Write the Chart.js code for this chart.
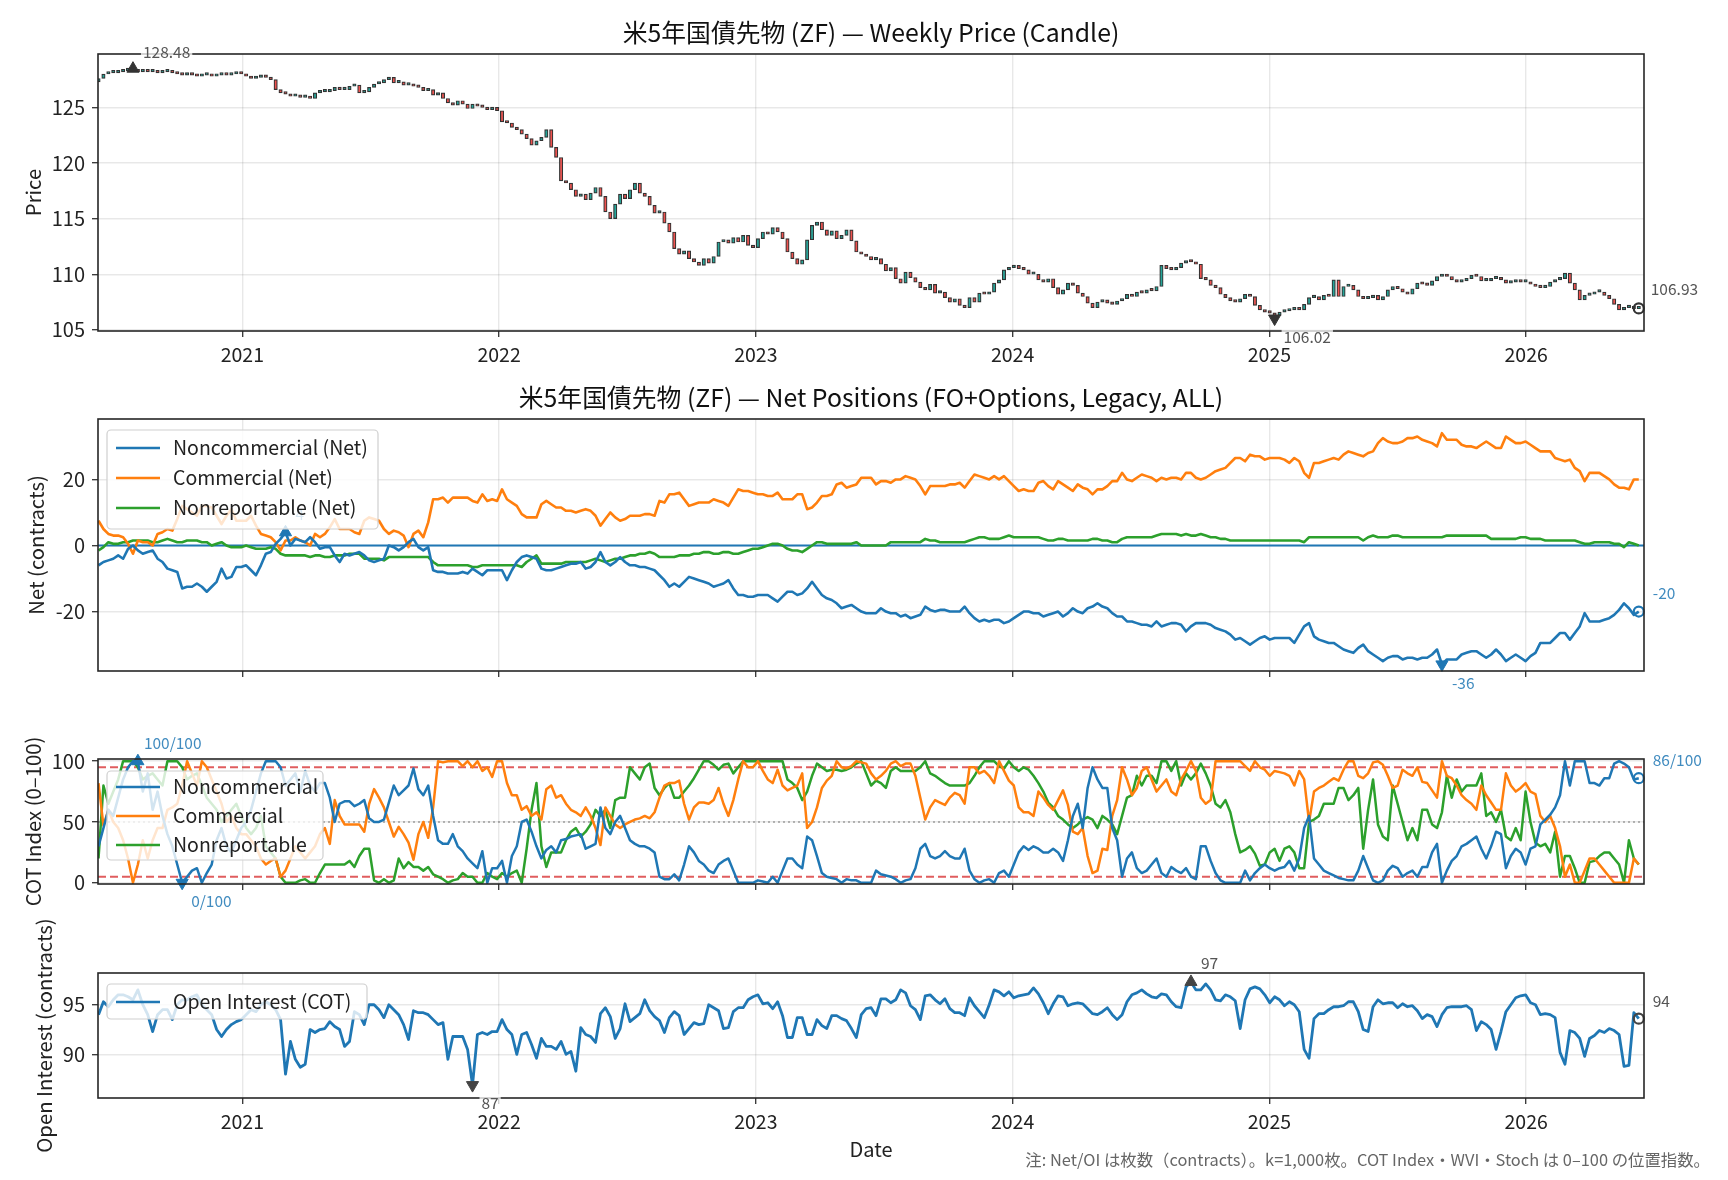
<!DOCTYPE html>
<html>
<head>
<meta charset="utf-8">
<script src="https://cdn.jsdelivr.net/npm/chart.js@4.4.1/dist/chart.umd.min.js"></script>
<style>
  body { margin: 0; background: #fff; width: 1728px; height: 1180px; overflow: hidden; position: relative; }
  canvas { position: absolute; left: 0; }
</style>
</head>
<body>
<canvas id="c1" width="1728" height="380" style="top:0"></canvas>
<canvas id="c2" width="1728" height="320" style="top:380px"></canvas>
<canvas id="c3" width="1728" height="215" style="top:700px"></canvas>
<canvas id="c4" width="1728" height="275" style="top:905px"></canvas>
<script>
// ---- time axis ----
const weekStart = 2020.44, weekStep = 7 / 365.25;
const xMin = 2020.438, xMax = 2026.459;
const yearTicks = [2021, 2022, 2023, 2024, 2025, 2026];

// ---- panel 1: weekly candles ----
const priceTicks = [105, 110, 115, 120, 125];
const priceOpen0 = 127.3;
const priceClose = [
  127.6,128.0,128.1,128.1,128.2,128.3,128.4,128.3,128.2,128.3,
  128.2,128.2,128.1,128.2,128.2,128.1,128.0,127.9,127.95,127.9,
  127.8,127.9,127.9,127.8,127.9,128.0,127.9,128.0,128.1,128.0,
  127.8,127.6,127.7,127.8,127.7,127.5,126.6,126.3,126.2,126.0,
  126.1,125.9,126.0,125.8,126.3,126.4,126.4,126.5,126.8,126.6,
  126.6,126.9,127.0,126.3,126.4,126.8,127.1,127.2,127.5,127.7,
  127.2,127.3,127.0,127.1,126.9,126.8,126.5,126.6,126.1,126.3,
  125.8,125.4,125.2,125.6,125.3,124.9,125.3,125.1,125.0,124.8,
  125.0,124.7,123.7,123.6,123.2,123.0,122.6,122.2,121.6,122.0,
  122.3,123.0,121.4,120.5,118.4,118.2,117.6,117.0,117.2,116.7,
  117.3,117.8,117.0,115.6,115.0,116.3,117.2,116.8,117.6,118.2,
  117.3,117.0,116.2,115.5,115.6,114.6,113.8,112.3,111.8,112.1,
  111.4,111.1,110.8,111.4,111.0,111.6,112.9,113.1,112.8,113.3,
  112.9,113.5,112.6,112.4,113.2,113.8,113.6,114.2,113.8,113.2,
  112.0,111.4,110.9,111.3,113.1,114.4,114.7,114.0,113.5,113.9,
  113.2,113.5,114.0,113.0,112.0,111.8,111.6,111.3,111.4,110.9,
  110.3,110.6,109.6,109.2,110.2,109.7,109.3,108.8,108.6,109.1,
  108.3,108.4,107.9,107.5,107.8,107.2,107.0,107.9,107.5,108.3,
  108.2,108.4,109.2,109.5,110.4,110.6,110.8,110.5,110.4,110.0,
  110.0,109.5,109.3,109.6,108.8,108.2,108.6,109.2,109.0,108.3,
  108.0,107.4,107.0,107.5,107.7,107.4,107.3,107.6,107.8,108.2,
  108.0,108.4,108.3,108.6,108.5,108.9,110.8,110.5,110.4,110.6,
  111.0,111.2,111.1,110.9,109.6,109.5,109.0,108.8,108.2,107.9,
  107.6,107.5,107.8,108.2,108.0,107.2,106.8,106.6,106.5,106.3,
  106.6,106.7,106.8,106.9,106.8,107.3,107.9,108.0,107.7,108.1,
  108.0,109.5,108.0,108.9,109.0,108.6,108.0,107.8,107.9,108.1,
  107.7,108.0,108.6,108.9,108.7,108.4,108.2,108.7,109.2,109.1,
  109.0,109.4,109.8,110.0,109.8,109.5,109.3,109.4,109.6,109.9,
  109.8,109.4,109.4,109.6,109.7,109.5,109.2,109.3,109.4,109.3,
  109.3,109.1,108.9,108.8,108.9,109.3,109.5,109.6,110.1,109.2,
  108.6,107.7,108.1,108.2,108.4,108.4,108.1,107.8,107.3,106.8,
  107.0,107.1,106.9,106.93
];
const priceHigh = [7, 128.48];   // [week, value]
const priceLow = [239, 106.02];

// ---- panel 2: net positions (k contracts) ----
const netTicks = [-20, 0, 20];
const netNames = ['Noncommercial (Net)', 'Commercial (Net)', 'Nonreportable (Net)'];
const netNonComm = [
  -6,-5,-4.5,-4,-3,-4,-1,0,-1.5,-2.5,
  -2,-1.5,-4,-5,-7,-7.5,-8,-13,-12.5,-12.5,
  -11.5,-12.5,-14,-12.5,-11,-7,-10,-9.5,-6.5,-6.5,
  -6,-7.5,-9,-6,-2.5,-2,0.5,2,4,0,
  2,1.5,1,2.5,1,-1,-0.5,-0.5,-3,-5,
  -2.5,-3,-2.5,-2,-3,-4.5,-5,-4.5,-4,0,
  -0.5,-1.5,-0.5,1,2,-0.5,-1.5,-0.5,-7.5,-8,
  -8,-8.5,-8.5,-8.5,-8,-8.5,-7,-8,-9,-7.5,
  -7.5,-7.5,-7.5,-10.5,-7.5,-5,-3.5,-3,-3.5,-4,
  -7,-7.5,-7.5,-7,-6.5,-6,-5.5,-5.5,-5,-7,
  -6.5,-5,-2,-5,-6,-5,-3.5,-5,-6,-6,
  -6.5,-6.5,-7,-7.5,-9,-10.5,-12.5,-11.5,-12.5,-11,
  -9.5,-10,-10.5,-11,-11.5,-12.5,-12,-11.5,-10.5,-13,
  -15,-15,-15.5,-15.5,-15,-15,-15,-16,-17,-15.5,
  -14,-14,-15,-14.5,-13,-11,-13,-15,-16,-16.5,
  -17.5,-19,-18.5,-18,-19,-20,-20.5,-20.5,-20.5,-19,
  -20,-20.5,-20.5,-21.5,-21,-22,-21.5,-21,-18.5,-19.5,
  -20,-19.5,-19.5,-20,-20,-20,-18.5,-20.5,-22,-23,
  -22.5,-23,-22.5,-22.5,-23.5,-23,-22,-21,-20,-20,
  -20.5,-20.5,-21.5,-21,-20.5,-20,-21.5,-20.5,-19,-20,
  -20.5,-19,-18.5,-17.5,-18.5,-19,-20.5,-21.5,-21.5,-23,
  -23,-23.5,-24,-24,-24.5,-23,-24.5,-24,-23.5,-23.5,
  -24,-26,-24.5,-23.5,-23.5,-23.5,-24,-25,-25.5,-26,
  -27,-28.5,-28,-29,-30,-29,-28,-27.5,-28.5,-28,
  -28,-28,-28,-29.5,-27,-24.5,-23.5,-27.5,-28.5,-29,
  -29.5,-29.5,-30.5,-31.5,-32,-32.5,-31,-30,-32,-33,
  -34,-35,-34,-33.5,-33.5,-34.5,-34,-34,-34.5,-34,
  -34,-33,-31.5,-36,-34.5,-34.5,-34.5,-33,-32.5,-32,
  -32,-33,-34,-33,-31.5,-33,-35,-34,-33,-34,
  -35,-33.5,-32.5,-29.5,-29.5,-29.5,-28,-26.5,-26.5,-28.5,
  -26.5,-24.5,-20.5,-23,-23,-23,-22.5,-22,-21,-19.5,
  -17.5,-19,-21,-20
];
const netComm = [
  7.5,5,3.5,3,3,2.5,0.5,-2.5,1.5,1,
  1,0,3.5,4,5,4.5,8,12,11,10,
  9,12,12,11.5,9,6.5,9,11,7.5,7.5,
  7.5,9,6,3.5,3,2.5,1,-1.5,1.5,1.5,
  2.5,1.5,1,0,3.5,2.5,3.5,5.5,8,5,
  5,5,4,3.5,7.5,8.5,8,7.5,5,3.5,
  4.5,4,3,-0.5,3.5,4.5,2.5,7,14,14,
  14.5,13,14.5,14.5,14.5,14.5,13.5,13,15.5,13.5,
  14,13.5,17,14,13,12,9.5,8.5,8.5,8.5,
  12.5,13.5,12.5,11.5,11.5,10.5,10.5,10,10.5,11,
  10.5,9,6,8,10,8.5,7.5,8,9,9,
  9,9.5,9.5,9,13.5,13,15.5,15.5,16,14,
  12,12.5,13,13,13,14,13.5,13,12,14.5,
  17,16.5,16.5,16,15.5,15.5,15,15,16,14,
  14,14,15.5,15.5,11,11.5,13,15,15,15.5,
  18.5,19,17.5,18,18.5,20.5,20.5,20.5,18.5,19.5,
  19.5,19,20,20,21,20.5,20,18,15.5,18,
  18,18,18,18.5,18.5,19,17.5,19.5,21.5,21,
  20.5,20,21,20,21,19.5,18,16.5,17,16.5,
  16.5,19,19.5,18,17,19.5,18.5,17.5,16.5,18.5,
  17.5,17,15.5,17,17,18,19.5,19.5,22,20,
  19.5,20.5,21.5,21,20.5,19.5,20.5,20,20.5,20.5,
  20,22,22,20.5,20,20.5,21.5,22.5,23,23.5,
  25,26.5,26.5,25.5,27.5,27,27,26,26.5,26.5,
  26.5,26,25,26.5,25.5,22,20.5,25,25,25.5,
  26,26.5,26,27.5,28.5,28,27.5,27,28,28.5,
  31,32.5,31.5,31,31,31.5,32.5,32.5,33,32,
  31.5,31,30,34,32,32,32,30.5,30,30,
  29.5,30.5,31.5,30.5,29.5,29.5,33,32,31,31,
  31.5,30.5,29.5,28.5,28.5,28.5,26.5,26,25.5,26,
  23.5,22.5,19.5,22,22,22,21,20,18.5,17.5,
  17.5,17,20,20
];
const netNonRep = [
  -1.5,-0.5,1,0.5,0.5,1,1,1.5,1.5,1.5,
  1.5,1,1,1.5,2,1.5,1,1,1.5,1.5,
  1.5,1,1,0,0.5,1,0,-0.5,-0.5,-0.5,
  0,-0.5,-1,-1,-1,-0.5,-1,-2.5,-3,-3,
  -3,-3,-3,-3.5,-3,-3,-3.5,-3.5,-3,-3,
  -3,-2.5,-2.5,-2.5,-4,-4,-4,-4,-4.5,-3.5,
  -3.5,-3.5,-3.5,-3.5,-3.5,-3.5,-3.5,-3.5,-5,-6,
  -6,-6,-6,-6,-6,-6,-6.5,-6.5,-6,-6,
  -6,-6,-6,-6,-6,-6,-6.5,-5,-4,-3,
  -5.5,-5.5,-5.5,-5.5,-5.5,-5,-5,-5,-5,-5,
  -4.5,-4,-4.5,-5,-4.5,-4,-4,-3.5,-3,-3,
  -2.5,-2.5,-2,-2.5,-3.5,-3.5,-3.5,-3.5,-3,-3,
  -3,-2.5,-2.5,-2,-2,-2.5,-2.5,-2,-2,-2.5,
  -2.5,-2,-1.5,-1,-1,-0.5,0,0.5,0.5,0,
  -1,-1.5,-1.5,-2,-1,0,1,1,0.5,0.5,
  0.5,0.5,0.5,0.5,1,0,0,0,0,0,
  0,1,1,1,1,1,1,1,2,1.5,
  1.5,1,1,1,1,1,1,1.5,2,2.5,
  2.5,2,2,2,2.5,3,2.5,2.5,2.5,2.5,
  2.5,2.5,2,1.5,1.5,2,2,1.5,1.5,1.5,
  1.5,1.5,2,2,1.5,1.5,1,1,2,2.5,
  2.5,2.5,2.5,2.5,2.5,3,3.5,3.5,3.5,3.5,
  3,3.5,3,3,3.5,3,2.5,2.5,2,2,
  1.5,1.5,1.5,1.5,1.5,1.5,1.5,1.5,1.5,1.5,
  1.5,1.5,1.5,1.5,1.5,1,2.5,2.5,2.5,2.5,
  2.5,2.5,2.5,2.5,2.5,2.5,2.5,1.5,2.5,3,
  2.5,2.5,2.5,3,3,2.5,2.5,2.5,2.5,2.5,
  2.5,2.5,2.5,2.5,3,3,3,3,3,3,
  3,3,3,2,2,2,2,2,2,2.5,
  2.5,2,2,2,1.5,1.5,1.5,1.5,1.5,1.5,
  1.5,1,0.5,0.5,1,1,1,1,0.5,0.5,
  -0.5,1,0.5,0
];
const netHigh = [38, 4];
const netLow = [273, -36];

// ---- panel 3: COT index (0-100) ----
const cotTicks = [0, 50, 100];
const cotBands = [5, 50, 95];
const cotNames = ['Noncommercial', 'Commercial', 'Nonreportable'];
const cotNonComm = [
  30,45,60,55,70,85,95,100,100,75,
  90,60,75,55,40,30,15,0,5,10,
  12,0,8,15,35,45,30,25,35,45,
  50,60,75,90,100,100,100,95,80,85,
  90,75,92,80,75,82,82,70,50,65,
  67,67,63,65,68,53,50,50,52,66,
  80,72,76,80,94,77,72,80,55,35,
  32,32,40,30,26,20,16,12,26,0,
  12,12,18,0,22,30,50,52,42,30,
  20,27,30,25,35,36,38,39,40,28,
  30,32,62,45,40,50,55,45,35,32,
  30,30,28,25,5,3,3,7,2,15,
  30,25,18,15,10,8,15,18,20,10,
  0,0,0,0,2,1,0,5,0,10,
  20,20,15,12,38,35,22,8,5,4,
  3,0,3,2,2,0,0,0,10,7,
  6,5,3,0,2,3,12,28,32,22,
  20,22,26,22,20,20,28,10,3,0,
  2,3,0,8,10,5,15,25,30,27,
  30,28,25,25,28,25,18,35,55,65,
  45,78,95,85,78,78,45,35,5,20,
  25,12,8,10,15,20,8,5,13,10,
  8,12,5,3,30,30,18,8,2,0,
  0,0,0,10,2,8,12,15,12,10,
  12,13,18,10,20,45,55,20,15,10,
  8,6,4,3,2,2,10,22,12,2,
  0,2,10,14,12,5,8,10,5,13,
  13,25,32,0,10,18,22,30,32,35,
  38,28,20,30,42,40,12,22,28,25,
  15,28,30,48,52,56,62,72,100,80,
  100,100,100,82,82,80,86,86,98,100,
  98,95,85,86
];
const cotComm = [
  82,47,60,50,45,35,20,0,15,35,
  20,35,45,45,60,62,65,80,100,90,
  80,100,95,85,75,65,50,55,45,40,
  40,35,30,20,15,18,20,5,10,20,
  30,25,20,25,30,40,45,32,68,55,
  48,48,48,48,42,65,77,70,62,50,
  38,46,40,33,19,40,50,37,62,100,
  99,100,100,100,96,100,95,100,92,95,
  87,100,100,82,72,72,60,63,55,58,
  52,77,80,70,72,65,60,58,55,62,
  55,45,31,62,55,48,45,48,50,52,
  53,55,53,58,70,80,82,82,84,65,
  52,62,66,66,65,68,78,65,55,68,
  85,100,95,95,100,92,85,82,93,80,
  76,78,80,90,45,50,62,78,84,88,
  100,95,94,96,100,99,98,90,85,88,
  92,98,100,96,98,98,88,70,52,62,
  68,66,64,70,74,72,65,95,95,90,
  92,88,82,100,92,84,80,62,58,58,
  55,75,70,64,60,68,76,64,42,40,
  45,22,8,10,28,27,55,68,95,85,
  72,78,92,95,85,75,80,85,75,72,
  85,92,100,92,70,65,68,100,100,100,
  100,100,100,96,92,100,95,93,88,92,
  91,90,88,80,92,85,50,75,78,80,
  83,86,84,93,100,100,88,86,90,99,
  100,97,88,78,80,93,90,88,95,83,
  82,76,70,100,88,86,80,72,68,65,
  60,80,72,66,60,60,90,80,75,78,
  82,75,73,55,50,55,45,30,5,15,
  0,0,10,20,20,15,10,5,0,0,
  0,0,20,15
];
const cotNonRep = [
  20,80,65,75,85,100,100,100,95,85,
  88,90,85,80,100,100,100,95,85,88,
  90,80,70,65,60,50,55,60,65,55,
  45,40,45,55,30,25,20,5,0,0,
  0,2,3,0,0,8,15,15,15,15,
  15,18,13,22,28,28,2,0,3,0,
  2,20,12,17,13,13,10,13,7,5,
  3,0,2,3,8,5,5,0,0,8,
  5,3,8,5,8,10,0,28,60,82,
  30,13,25,25,25,35,42,45,38,42,
  48,60,55,60,45,68,70,70,95,90,
  85,95,98,78,72,78,82,70,70,75,
  80,86,93,100,100,97,93,97,98,90,
  95,100,100,100,100,100,100,100,100,100,
  85,82,78,68,75,88,98,95,92,93,
  93,92,93,95,98,100,90,80,84,82,
  78,92,95,92,92,92,92,95,100,90,
  88,85,82,80,80,80,80,82,88,95,
  100,100,100,96,94,100,95,92,95,93,
  88,82,75,66,62,55,52,48,45,48,
  52,54,52,45,55,52,48,40,55,70,
  72,88,80,88,88,82,100,100,92,100,
  80,90,85,90,98,90,80,65,62,68,
  58,40,25,27,30,24,14,15,25,28,
  18,28,30,25,12,12,50,52,55,65,
  65,65,78,78,68,72,78,28,60,85,
  48,38,35,80,65,50,35,45,35,60,
  60,48,45,58,88,70,85,75,80,80,
  80,90,55,58,50,60,38,35,45,35,
  75,50,33,30,32,25,42,5,22,22,
  12,0,0,17,18,22,25,25,20,15,
  0,35,20,15
];
const cotHigh = [8, 100];
const cotLow = [17, 0];

// ---- panel 4: open interest (k contracts) ----
const oiTicks = [90, 95];
const oiName = 'Open Interest (COT)';
const openInterest = [
  94,95.3,94.8,95.5,96,96,95.8,95.5,96.5,95,
  94,92.3,94,94.5,94.5,93.5,95,95.5,95.5,95.8,
  96,95,94.5,94,92.5,91.8,92.5,93,93.3,93.5,
  94,94.5,94.3,95,95.3,95,94.5,93.5,88,91.3,
  89.5,88.7,89,92.5,92.2,92.5,92.6,93.3,92.8,92.5,
  90.8,91.3,94.3,94,93,95,95,94.5,93.7,95,
  94.5,94,93,91.5,94.4,94.2,94.2,94,93.5,93,
  93.2,89.5,91.8,91.8,91.8,90.5,86.9,92,92.2,92,
  92.3,92.3,93.5,92.5,92,90,92,92.2,91,89.6,
  91.6,90.8,90.8,90.5,91.3,90,90.3,88.3,92.7,92,
  91.8,91.2,94.1,94.7,93.8,91.6,92.6,95.1,93.3,93.7,
  94.1,95.5,94.4,93.8,93.4,92.2,93.7,94.3,93.9,92,
  92.6,93.2,93,93.1,95,94.7,94.4,92.6,92.7,94.3,
  94.7,94.7,95.5,95.8,96,95.1,95.2,94.6,95.3,93.9,
  91.7,91.7,93.7,93.7,92,92,93.5,92.9,92.6,93.9,
  93.9,93.6,93.4,92.6,91.7,94,94.6,94.7,93.9,95.6,
  95.6,95.2,95.5,96.5,96.2,94.9,94.5,93.5,95.9,96,
  95.5,95.1,95.6,94.6,94.2,94.2,93.9,95.7,94.9,94.3,
  93.7,95,96.5,96.3,95.9,96.3,95.7,95.9,96,96.1,
  96.7,96.1,95.2,94.1,95.1,95.9,95.8,94.9,95.1,95.2,
  95.1,94.6,94.1,94,94.3,94.7,94,93.5,94,95.3,
  96,96.2,96.5,96.1,95.8,95.7,96.1,96,95.3,94.8,
  94.7,96.8,97.3,96.5,96.5,97.1,96.5,95.5,95.4,96,
  95.8,95.4,92.6,95.5,96.6,96.8,96.6,96,95.2,95.8,
  95.5,94.9,95.3,95,94.3,90.5,89.6,93.6,94.1,94.1,
  94.5,94.8,94.8,94.9,95.3,95.3,94.3,92.5,92.3,94.8,
  95.5,95.1,95.2,95.2,94.7,95.1,94.8,94.9,94.4,93.6,
  94,93.8,92.8,94,94.7,94.8,94.8,94.8,94.9,94.5,
  92.4,93.3,93,92.5,90.5,92.3,94.3,95,95.7,95.9,
  96,95.2,95,94,94.1,94,93.7,90.2,89,92.4,
  92.2,91.6,89.8,91.6,91.9,92.4,92.2,92.6,92.4,92,
  88.8,88.9,94.2,93.6
];
const oiHigh = [222, 97.3];
const oiLow = [76, 86.9];

// ---- texts ----
const titles = [
  '米5年国債先物 (ZF) — Weekly Price (Candle)',
  '米5年国債先物 (ZF) — Net Positions (FO+Options, Legacy, ALL)'
];
const yLabels = ['Price', 'Net (contracts)', 'COT Index (0–100)', 'Open Interest (contracts)'];
const xLabel = 'Date';
const footnote = '注: Net/OI は枚数（contracts）。k=1,000枚。COT Index・WVI・Stoch は 0–100 の位置指数。';

// ================= drawing =================
const FONT = '"Noto Sans CJK JP", "Noto Sans", sans-serif';
Chart.defaults.font.family = FONT;
Chart.defaults.color = '#222';
const GRID = 'rgba(0,0,0,0.09)';
const BLUE = '#1f77b4', ORANGE = '#ff7f0e', GREEN = '#2ca02c';
const NOTE_BLUE = 'rgba(31,119,180,0.85)';

const weekX = priceClose.map((_, i) => weekStart + i * weekStep);
const pts = arr => arr.map((v, i) => ({ x: weekX[i], y: v }));
const at = ([i, v]) => ({ x: weekX[i], y: v });
const lastOf = arr => ({ x: weekX[arr.length - 1], y: arr[arr.length - 1] });

function xAxis(labels, h) {
  return {
    type: 'linear', min: xMin, max: xMax, offset: false,
    afterFit: s => { s.height = h; },
    afterBuildTicks: s => { s.ticks = yearTicks.map(v => ({ value: v })); },
    ticks: { display: labels, autoSkip: false, maxRotation: 0, padding: 6, font: { size: 19.5 }, callback: v => String(v) },
    grid: { color: GRID, lineWidth: 1.4, tickLength: 6, tickColor: '#333', tickWidth: 1.3, offset: false },
    border: { display: false }
  };
}
function yAxis(min, max, ticks) {
  return {
    type: 'linear', min, max,
    afterFit: s => { s.width = 98; },
    afterBuildTicks: s => { s.ticks = ticks.map(v => ({ value: v })); },
    ticks: { padding: 7, font: { size: 20 }, callback: v => String(v) },
    grid: { color: GRID, lineWidth: 1.4, tickLength: 6, tickColor: '#333', tickWidth: 1.3 },
    border: { display: false }
  };
}
const line = (data, color, w) => ({
  type: 'line', data: pts(data), borderColor: color, borderWidth: w,
  pointRadius: 0, tension: 0, fill: false, borderJoinStyle: 'round', order: 1
});
const mark = (p, color, rot) => ({
  type: 'line', data: [p], showLine: false, pointStyle: 'triangle', pointRotation: rot,
  pointRadius: 7, pointBackgroundColor: color, pointBorderColor: color, clip: false, order: 0
});
const ring = (p, color) => ({
  type: 'line', data: [p], showLine: false, pointStyle: 'circle', pointRadius: 5,
  pointBackgroundColor: 'rgba(255,255,255,0)', pointBorderColor: color, pointBorderWidth: 2.2, clip: false, order: 0
});
const hline = (v, color, dash, w) => ({
  type: 'line', data: [{ x: xMin, y: v }, { x: xMax, y: v }], borderColor: color,
  borderDash: dash, borderWidth: w, pointRadius: 0, order: 5
});

function decor(cfg) {
  return {
    id: 'decor',
    afterDraw(chart) {
      const { ctx, chartArea: a, scales } = chart;
      ctx.save();
      ctx.strokeStyle = '#262626'; ctx.lineWidth = 1.6;
      ctx.strokeRect(a.left, a.top, a.right - a.left, a.bottom - a.top);
      ctx.textBaseline = 'middle';
      if (cfg.title) {
        ctx.fillStyle = '#111'; ctx.font = '24.8px ' + FONT; ctx.textAlign = 'center';
        ctx.fillText(cfg.title, (a.left + a.right) / 2, cfg.titleY);
      }
      ctx.save();
      ctx.translate(cfg.yLabelX, (a.top + a.bottom) / 2); ctx.rotate(-Math.PI / 2);
      ctx.fillStyle = '#222'; ctx.font = '20.3px ' + FONT; ctx.textAlign = 'center';
      ctx.fillText(cfg.yLabel, 0, 0);
      ctx.restore();
      (cfg.notes || []).forEach(n => {
        const px = scales.x.getPixelForValue(n.p.x) + n.dx;
        const py = scales.y.getPixelForValue(n.p.y) + n.dy;
        ctx.font = '15.5px ' + FONT; ctx.textAlign = 'left';
        const w = ctx.measureText(n.text).width;
        if (n.box) { ctx.fillStyle = 'rgba(255,255,255,0.75)'; ctx.fillRect(px - 2, py - 9, w + 4, 18); }
        ctx.fillStyle = n.color; ctx.fillText(n.text, px, py);
      });
      if (cfg.legend) {
        const lg = cfg.legend, x = a.left + 9, y = a.top + lg.dy;
        ctx.beginPath(); ctx.roundRect(x, y, lg.w, lg.h, 4);
        ctx.fillStyle = 'rgba(255,255,255,0.8)'; ctx.fill();
        ctx.strokeStyle = '#cfcfcf'; ctx.lineWidth = 1.2; ctx.stroke();
        lg.items.forEach((it, k) => {
          const ry = y + lg.row0 + k * lg.gap;
          ctx.strokeStyle = it.color; ctx.lineWidth = 2.6;
          ctx.beginPath(); ctx.moveTo(x + 9, ry); ctx.lineTo(x + 53, ry); ctx.stroke();
          ctx.fillStyle = '#222'; ctx.font = '19.5px ' + FONT; ctx.textAlign = 'left';
          ctx.fillText(it.text, x + 66, ry);
        });
      }
      (cfg.texts || []).forEach(t => {
        ctx.fillStyle = t.color; ctx.font = t.size + 'px ' + FONT; ctx.textAlign = t.align;
        ctx.fillText(t.text, t.x, t.y);
      });
      ctx.restore();
    }
  };
}
function build(id, type, datasets, x, y, padding, cfg) {
  return new Chart(document.getElementById(id), {
    type, data: { datasets },
    options: {
      responsive: false, animation: false, events: [],
      layout: { padding },
      plugins: { legend: { display: false }, tooltip: { enabled: false } },
      scales: { x, y }
    },
    plugins: [decor(cfg)]
  });
}

// panel 1
const candles = priceClose.map((c, i) => ({ x: weekX[i], y: [i ? priceClose[i - 1] : priceOpen0, c] }));
build('c1', 'bar', [
  {
    type: 'bar', data: candles, barThickness: 3.4, minBarLength: 2.5, grouped: false,
    backgroundColor: candles.map(d => d.y[1] >= d.y[0] ? '#26a69a' : '#ef5350'),
    borderColor: '#333333', borderWidth: 1.2, borderSkipped: false, order: 2
  },
  mark(at(priceHigh), '#333', 0),
  mark(at(priceLow), '#333', 180),
  ring(lastOf(priceClose), '#333')
], xAxis(true, 40), yAxis(104.9, 129.8, priceTicks), { left: 0, right: 84, top: 54, bottom: 9 }, {
  title: titles[0], titleY: 33, yLabel: yLabels[0], yLabelX: 33,
  notes: [
    { p: at(priceHigh), text: priceHigh[1].toFixed(2), dx: 10, dy: -17, color: '#555', box: true },
    { p: at(priceLow), text: priceLow[1].toFixed(2), dx: 9, dy: 19, color: '#555', box: true },
    { p: lastOf(priceClose), text: priceClose[priceClose.length - 1].toFixed(2), dx: 12, dy: -19, color: '#555', box: false }
  ]
});

// panel 2
build('c2', 'line', [
  hline(0, BLUE, [], 1.8),
  line(netNonComm, BLUE, 2.6),
  line(netComm, ORANGE, 2.6),
  line(netNonRep, GREEN, 2.6),
  mark(at(netHigh), BLUE, 0),
  mark(at(netLow), BLUE, 180),
  ring(lastOf(netNonComm), BLUE)
], xAxis(false, 14), yAxis(-38, 38.3, netTicks), { left: 0, right: 84, top: 39, bottom: 15 }, {
  title: titles[1], titleY: 18, yLabel: yLabels[1], yLabelX: 36,
  notes: [
    { p: at(netHigh), text: String(netHigh[1]), dx: 10, dy: -18, color: NOTE_BLUE },
    { p: at(netLow), text: String(netLow[1]), dx: 10, dy: 19, color: NOTE_BLUE },
    { p: lastOf(netNonComm), text: String(netNonComm[netNonComm.length - 1]), dx: 14, dy: -18, color: NOTE_BLUE }
  ],
  legend: { dy: 11, w: 271, h: 99, row0: 18, gap: 30,
    items: netNames.map((t, k) => ({ text: t, color: [BLUE, ORANGE, GREEN][k] })) }
});

// panel 3
build('c3', 'line', [
  hline(cotBands[0], 'rgba(214,39,40,0.75)', [8, 4], 1.9),
  hline(cotBands[1], 'rgba(120,120,120,0.7)', [2, 3], 1.6),
  hline(cotBands[2], 'rgba(214,39,40,0.75)', [8, 4], 1.9),
  line(cotNonComm, BLUE, 2.5),
  line(cotComm, ORANGE, 2.5),
  line(cotNonRep, GREEN, 2.5),
  mark(at(cotHigh), BLUE, 0),
  mark(at(cotLow), BLUE, 180),
  ring(lastOf(cotNonComm), BLUE)
], xAxis(false, 14), yAxis(-1, 101.8, cotTicks), { left: 0, right: 84, top: 59, bottom: 17 }, {
  yLabel: yLabels[2], yLabelX: 33,
  notes: [
    { p: at(cotHigh), text: cotHigh[1] + '/100', dx: 6, dy: -18, color: NOTE_BLUE },
    { p: at(cotLow), text: cotLow[1] + '/100', dx: 9, dy: 18, color: NOTE_BLUE },
    { p: lastOf(cotNonComm), text: cotNonComm[cotNonComm.length - 1] + '/100', dx: 14, dy: -18, color: NOTE_BLUE }
  ],
  legend: { dy: 12, w: 216, h: 89, row0: 16, gap: 29,
    items: cotNames.map((t, k) => ({ text: t, color: [BLUE, ORANGE, GREEN][k] })) }
});

// panel 4
build('c4', 'line', [
  line(openInterest, BLUE, 2.8),
  mark(at(oiHigh), '#444', 0),
  mark(at(oiLow), '#444', 180),
  ring(lastOf(openInterest), '#444')
], xAxis(true, 40), yAxis(85.6, 98.2, oiTicks), { left: 0, right: 84, top: 68, bottom: 42 }, {
  yLabel: yLabels[3], yLabelX: 44,
  notes: [
    { p: at(oiHigh), text: Math.round(oiHigh[1]).toString(), dx: 10, dy: -19, color: '#555', box: true },
    { p: at(oiLow), text: Math.round(oiLow[1]).toString(), dx: 9, dy: 18, color: '#555', box: true },
    { p: lastOf(openInterest), text: Math.round(openInterest[openInterest.length - 1]).toString(), dx: 14, dy: -18, color: '#555' }
  ],
  legend: { dy: 11, w: 260, h: 35, row0: 18, gap: 30, items: [{ text: oiName, color: BLUE }] },
  texts: [
    { text: xLabel, x: 871, y: 244, size: 20, align: 'center', color: '#222' },
    { text: footnote, x: 1710, y: 255, size: 16.4, align: 'right', color: '#666' }
  ]
});
</script>
</body>
</html>
